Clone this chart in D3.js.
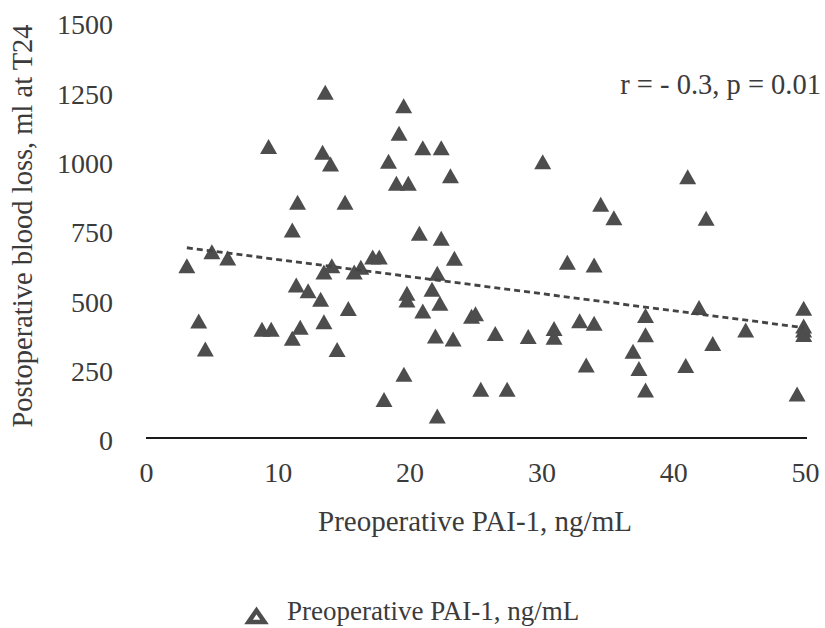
<!DOCTYPE html>
<html>
<head>
<meta charset="utf-8">
<script src="https://cdn.jsdelivr.net/npm/d3@7"></script>
<style>
  html, body { margin: 0; padding: 0; background: #fff; }
  svg { display: block; }
  text { fill: #3b3b3b; }
</style>
</head>
<body>
<svg id="chart" width="825" height="628"></svg>
<script>
// ---- data ----
const pai1 = [3.1, 4.0, 4.5, 5.0, 6.2, 8.8, 9.3, 9.5, 11.1, 11.1, 11.4, 11.5, 11.7, 12.3, 13.25, 13.4, 13.5, 13.5, 13.6, 14.0,
  14.1, 14.5, 15.1, 15.35, 15.8, 16.3, 17.2, 17.7, 18.06, 18.4, 19.0, 19.2, 19.55, 19.57, 19.8, 19.8, 19.9, 20.74, 21.0, 21.0,
  21.7, 21.96, 22.1, 22.1, 22.3, 22.4, 22.4, 23.1, 23.3, 23.4, 24.7, 25.0, 25.4, 26.5, 27.4, 29.0, 30.1, 30.96, 30.96, 31.97,
  32.9, 33.4, 34.0, 34.0, 34.5, 35.5, 36.95, 37.4, 37.9, 37.9, 37.9, 40.95, 41.1, 41.96, 42.5, 43.0, 45.5, 49.4, 49.9, 49.9,
  49.9, 49.9];
const bloodLoss = [621, 422, 321, 672, 649, 392, 1051, 392, 750, 360, 552, 850, 399, 531, 500, 1030, 599, 419, 1247, 988,
  621, 319, 850, 467, 599, 616, 653, 653, 139, 998, 919, 1099, 1198, 230, 522, 498, 919, 738, 1047, 458,
  536, 368, 594, 79, 486, 1047, 720, 946, 357, 648, 439, 448, 176, 377, 176, 366, 996, 395, 363, 634,
  423, 263, 624, 414, 843, 794, 313, 251, 442, 372, 173, 261, 942, 471, 792, 341, 389, 159, 468, 404,
  389, 373];
const trendX = [3.1, 49.9];
const trendY = [686, 398];
const xTicks = [0, 10, 20, 30, 40, 50];
const yTicks = [0, 250, 500, 750, 1000, 1250, 1500];
const xTitle = "Preoperative PAI-1, ng/mL";
const yTitle = "Postoperative blood loss, ml at T24";
const statText = "r = - 0.3, p = 0.01";
const legendLabel = "Preoperative PAI-1, ng/mL";

// ---- drawing ----
const FONT = '"Liberation Serif", Tinos, "Times New Roman", Times, "DejaVu Serif", "Noto Serif", serif';
const svg = d3.select("#chart").style("font-family", FONT);
const x = d3.scaleLinear().domain([0, 50]).range([146, 805]);
const y = d3.scaleLinear().domain([0, 1500]).range([438, 22]);
const markColor = "#4d4d4d";
const tri = "M0,-7.5L8.5,7.5L-8.5,7.5Z";

// y axis (labels only)
const gy = svg.append("g").attr("transform", "translate(146,0)")
  .call(d3.axisLeft(y).tickValues(yTicks).tickSize(0).tickPadding(33).tickFormat(d3.format("d")));
gy.attr("font-family", null);
gy.select(".domain").remove();
gy.selectAll("text").attr("font-size", 28).attr("dy", "0.42em")
  .style("font-family", FONT).attr("fill", "#3b3b3b");

// x axis
const gx = svg.append("g").attr("transform", "translate(0,438)")
  .call(d3.axisBottom(x).tickValues(xTicks).tickSize(0).tickPadding(24).tickFormat(d3.format("d")));
gx.attr("font-family", null);
gx.select(".domain").attr("stroke", "#1a1a1a").attr("stroke-width", 2)
  .attr("d", `M${x(0)},0H${x(50) + 2}`);
gx.selectAll("text").attr("font-size", 28)
  .style("font-family", FONT).attr("fill", "#3b3b3b");

// points
const pts = pai1.map((v, i) => ({ x: v, y: bloodLoss[i] }));
svg.append("g").selectAll("path").data(pts).join("path")
  .attr("d", tri)
  .attr("transform", d => `translate(${x(d.x)},${y(d.y)})`)
  .attr("fill", markColor);

// trend line
const trend = trendX.map((v, i) => ({ x: v, y: trendY[i] }));
svg.append("path").datum(trend)
  .attr("d", d3.line().x(d => x(d.x)).y(d => y(d.y)))
  .attr("fill", "none").attr("stroke", "#444").attr("stroke-width", 2.8)
  .attr("stroke-dasharray", "6,4");

// titles
svg.append("text").attr("x", 475).attr("y", 531).attr("text-anchor", "middle")
  .attr("font-size", 29).style("font-family", FONT).text(xTitle);
svg.append("text").attr("transform", "translate(32,226) rotate(-90)").attr("text-anchor", "middle")
  .attr("font-size", 28.5).style("font-family", FONT).text(yTitle);
svg.append("text").attr("x", 821).attr("y", 94).attr("text-anchor", "end")
  .attr("font-size", 28.5).style("font-family", FONT).attr("fill", "#222").text(statText);

// legend
const lg = svg.append("g");
lg.append("path").attr("d", "M0,-5.5L8,6L-8,6Z")
  .attr("transform", "translate(256.5,616)")
  .attr("fill", "#fff").attr("stroke", markColor).attr("stroke-width", 4.5).attr("stroke-linejoin", "miter");
lg.append("text").attr("x", 287).attr("y", 620).attr("font-size", 27).style("font-family", FONT).text(legendLabel);
</script>
</body>
</html>
